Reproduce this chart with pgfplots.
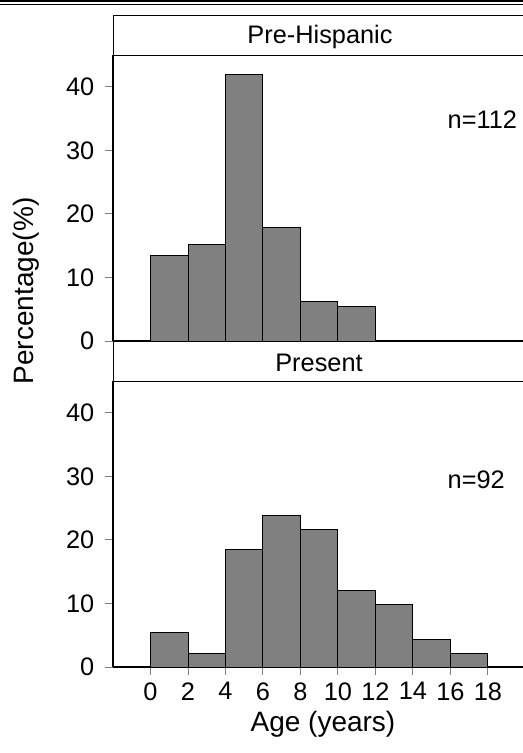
\documentclass[border=0pt]{standalone}
\usepackage{pgfplots}
\pgfplotsset{compat=1.18}
\usepackage{fontspec}
\setmainfont{Liberation Sans}

\pgfplotsset{panel/.style={
  scale only axis, width=307.5pt, height=214.5pt,
  xmin=-2, xmax=19.867, ymin=0, ymax=45,
  axis x line=bottom, axis y line=left,
  axis line style={-, line width=1.2pt},
  ytick={0,10,...,40}, tick align=outside, major tick length=6pt,
  tick style={gray, line width=0.75pt},
  tick label style={font=\fontsize{19}{22}\selectfont},
  yticklabel style={xshift=-4.5pt},
  xticklabel style={yshift=-2pt},
  /pgf/number format/assume math mode=true,
  anchor=south west, clip=false,
}}

\begin{document}
\begin{tikzpicture}[x=0.75pt,y=-0.75pt]
\useasboundingbox (0,0) rectangle (523,753);
\draw[line width=1.9pt] (0,1.2) -- (523,1.2);
\draw[line width=0.75pt] (0,4.2) -- (523,4.2);

% Pre-Hispanic, n=112
\begin{axis}[panel, at={(84.75pt,-255.75pt)}, xtick=\empty]
\addplot[ybar interval, fill=gray, draw=black, line width=0.75pt]
  coordinates {(0,13.4)(2,15.2)(4,42.0)(6,17.9)(8,6.25)(10,5.36)(12,0)};
\end{axis}

% Present, n=92
\begin{axis}[panel, at={(84.75pt,-500.25pt)}, xtick={0,2,...,18}]
\addplot[ybar interval, fill=gray, draw=black, line width=0.75pt]
  coordinates {(0,5.43)(2,2.17)(4,18.48)(6,23.9)(8,21.7)(10,11.96)(12,9.78)(14,4.35)(16,2.17)(18,0)};
\end{axis}

\draw[line width=0.75pt] (523,15) -- (113,15) -- (113,55) -- (523,55);
\draw[line width=0.75pt] (523,341) -- (113,341) -- (113,381) -- (523,381);
\node[anchor=base, font=\fontsize{19}{22}\selectfont] at (320,43) {Pre-Hispanic};
\node[anchor=base, font=\fontsize{19}{22}\selectfont] at (319,371.5) {Present};
\node[anchor=base west, font=\fontsize{19}{22}\selectfont] at (443,128) {n=112};
\node[anchor=base west, font=\fontsize{19}{22}\selectfont] at (443,488.3) {n=92};
\node[rotate=90, font=\fontsize{21}{24}\selectfont] at (26,291) {Percentage(\%)};
\node[anchor=base, font=\fontsize{21}{24}\selectfont] at (323,731) {Age (years)};
\end{tikzpicture}
\end{document}
